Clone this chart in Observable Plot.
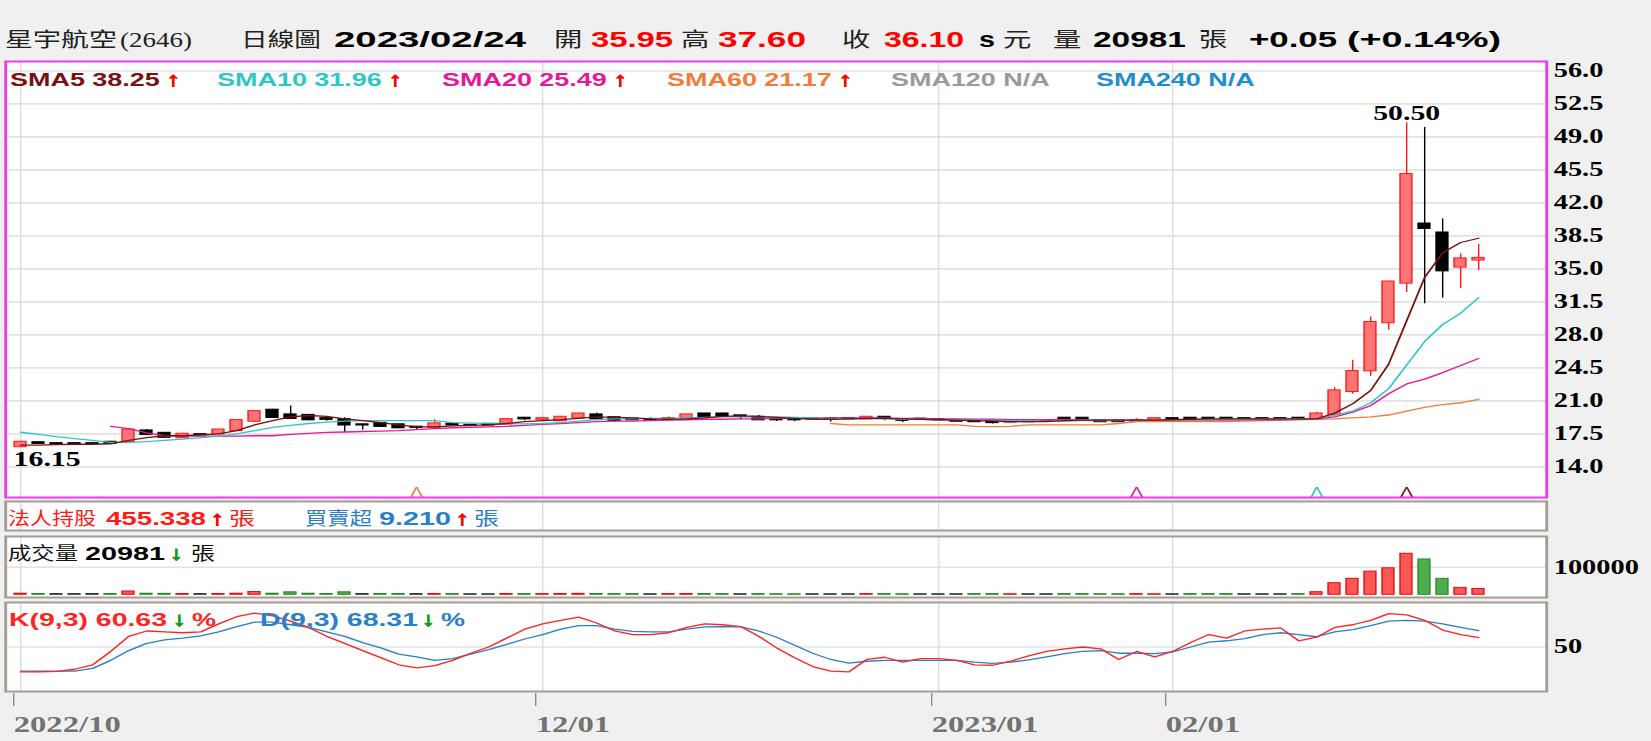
<!DOCTYPE html>
<html><head><meta charset="utf-8">
<script src="https://cdn.jsdelivr.net/npm/d3@7"></script>
<script src="https://cdn.jsdelivr.net/npm/@observablehq/plot@0.6"></script>
<style>
html,body{margin:0;padding:0;background:#f0f0f0;overflow:hidden;width:1651px;height:741px;}
#stage{position:absolute;left:0;top:0;height:741px;transform-origin:0 0;}
#stage svg{position:absolute;left:0;overflow:visible;background:transparent;}
</style></head><body><div id="stage"></div>
<script>
// ---------------- data ----------------
const dates = [
"2022-10-21","2022-10-24","2022-10-25","2022-10-26","2022-10-27","2022-10-28","2022-10-31",
"2022-11-01","2022-11-02","2022-11-03","2022-11-04","2022-11-07","2022-11-08","2022-11-09","2022-11-10","2022-11-11",
"2022-11-14","2022-11-15","2022-11-16","2022-11-17","2022-11-18","2022-11-21","2022-11-22","2022-11-23","2022-11-24",
"2022-11-25","2022-11-28","2022-11-29","2022-11-30",
"2022-12-01","2022-12-02","2022-12-05","2022-12-06","2022-12-07","2022-12-08","2022-12-09","2022-12-12","2022-12-13",
"2022-12-14","2022-12-15","2022-12-16","2022-12-19","2022-12-20","2022-12-21","2022-12-22","2022-12-23","2022-12-26",
"2022-12-27","2022-12-28","2022-12-29","2022-12-30",
"2023-01-03","2023-01-04","2023-01-05","2023-01-06","2023-01-09","2023-01-10","2023-01-11","2023-01-12","2023-01-13",
"2023-01-16","2023-01-17","2023-01-30","2023-01-31",
"2023-02-01","2023-02-02","2023-02-03","2023-02-06","2023-02-07","2023-02-08","2023-02-09","2023-02-10","2023-02-13",
"2023-02-14","2023-02-15","2023-02-16","2023-02-17","2023-02-20","2023-02-21","2023-02-22","2023-02-23","2023-02-24"];
const open = [
16.15,16.55,16.45,16.45,16.45,16.60,16.70,17.80,17.55,17.10,
17.40,17.50,17.85,18.85,20.00,19.50,19.45,19.10,19.00,18.45,
18.60,18.45,18.20,18.20,18.50,18.40,18.45,18.55,19.15,19.05,
18.90,19.20,19.50,19.20,19.05,19.00,19.05,19.20,19.60,19.60,
19.40,19.25,19.05,19.10,19.10,19.10,19.10,19.10,19.25,19.00,
19.05,19.00,18.85,18.90,18.85,18.75,18.80,18.90,19.15,19.15,
18.85,18.85,18.85,19.05,19.10,19.15,19.15,19.15,19.10,19.10,
19.10,19.15,19.05,19.60,22.00,24.20,29.30,33.50,39.75,38.80,
35.20,35.95];
const high = [
16.65,16.60,16.50,16.50,16.50,16.70,17.95,17.95,17.60,17.50,
17.45,17.95,18.95,19.90,20.10,20.45,19.50,19.25,19.20,18.50,
18.65,18.50,18.25,19.00,18.55,18.45,18.50,19.05,19.25,19.25,
19.30,19.65,19.70,19.25,19.10,19.20,19.30,19.55,19.65,19.65,
19.45,19.45,19.10,19.10,19.10,19.10,19.15,19.25,19.25,19.00,
19.05,19.05,18.90,18.90,18.90,18.85,18.85,18.95,19.15,19.15,
18.85,18.85,19.10,19.15,19.15,19.15,19.15,19.15,19.10,19.10,
19.10,19.15,19.80,22.40,25.30,29.90,33.65,50.50,50.00,40.30,
36.60,37.60];
const low = [
16.15,16.45,16.40,16.40,16.40,16.45,16.60,17.30,17.10,17.05,
17.35,17.45,17.80,18.70,19.15,19.10,18.90,18.85,17.65,17.90,
18.25,18.10,17.95,18.15,18.40,18.35,18.40,18.50,18.90,18.95,
18.85,19.15,19.05,18.70,18.95,18.85,18.90,19.15,19.25,19.30,
19.00,18.95,18.80,18.80,19.05,18.75,19.05,19.05,18.90,18.70,
19.00,18.95,18.75,18.75,18.55,18.70,18.70,18.70,19.05,19.05,
18.75,18.75,18.75,19.00,19.00,19.05,19.05,19.05,19.05,19.05,
19.05,19.05,19.05,19.40,21.70,23.60,28.50,32.50,31.30,31.90,
32.90,34.80];
const close = [
16.60,16.50,16.45,16.45,16.45,16.50,17.90,17.45,17.15,17.45,
17.40,17.90,18.90,19.85,19.25,19.15,19.00,19.05,18.45,18.45,
18.30,18.15,18.20,18.55,18.45,18.40,18.45,19.00,19.10,19.10,
19.25,19.60,19.10,18.95,19.00,19.00,19.10,19.50,19.30,19.35,
19.40,19.00,19.00,19.00,19.10,19.10,19.10,19.25,19.20,18.95,
19.05,19.00,18.85,18.80,18.70,18.80,18.80,18.90,19.10,19.10,
18.80,18.80,18.90,19.10,19.10,19.10,19.10,19.10,19.10,19.10,
19.10,19.10,19.60,22.05,24.10,29.30,33.60,45.00,39.30,34.80,
36.05,36.10];
const volume = [
4000,3000,2500,2500,3000,3000,12000,4000,3500,3000,
2500,3000,4000,10000,4000,9000,4000,3000,9000,3000,
3000,3000,2500,3000,2500,2000,2000,3000,2500,2500,
3000,3500,3000,2500,2500,2000,2500,3000,3000,2500,
2000,2500,2000,2000,2000,2000,2000,2500,2500,2000,
2000,2000,2000,2500,2500,2000,2000,2000,2500,2500,
2000,2000,2500,2000,2000,2500,2500,2500,2000,2000,
2000,2500,9400,42000,58000,84000,96000,148600,128000,58000,
25000,20981];
const sma5 = [
16.30,16.30,16.35,16.40,16.40,16.45,16.80,17.10,17.30,17.30,
17.40,17.50,17.85,18.45,18.90,19.30,19.45,19.35,19.10,18.90,
18.70,18.45,18.25,18.25,18.35,18.40,18.45,18.60,18.80,18.90,
19.00,19.15,19.30,19.25,19.20,19.10,19.05,19.10,19.20,19.35,
19.40,19.35,19.25,19.15,19.05,19.05,19.10,19.15,19.15,19.10,
19.05,19.00,18.95,18.90,18.85,18.80,18.80,18.80,18.90,18.95,
18.95,18.95,18.95,18.95,19.00,19.05,19.10,19.10,19.10,19.10,
19.10,19.10,19.10,19.70,20.70,22.10,24.90,29.50,34.10,36.70,
37.80,38.25];
const sma10 = [
17.67,17.45,17.20,17.00,16.80,16.60,16.60,16.67,16.80,16.95,
17.10,17.25,17.50,17.85,18.20,18.40,18.60,18.75,18.85,18.90,
18.90,18.90,18.90,18.90,18.70,18.65,18.65,18.60,18.55,18.60,
18.70,18.85,19.00,19.10,19.10,19.15,19.15,19.20,19.25,19.30,
19.30,19.30,19.30,19.25,19.20,19.15,19.10,19.10,19.10,19.05,
19.05,19.00,19.00,18.95,18.95,18.90,18.90,18.85,18.85,18.90,
18.90,18.90,18.90,18.95,18.95,19.00,19.00,19.05,19.05,19.10,
19.10,19.10,19.10,19.50,19.90,20.80,22.30,24.80,27.30,29.10,
30.30,31.96];
const sma20 = [
null,null,null,null,null,18.30,18.05,17.60,17.30,17.25,
17.25,17.25,17.25,17.30,17.30,17.45,17.55,17.65,17.70,17.75,
17.80,17.85,17.95,18.05,18.15,18.20,18.25,18.30,18.40,18.50,
18.60,18.70,18.80,18.85,18.85,18.90,18.95,19.00,19.05,19.05,
19.10,19.10,19.15,19.15,19.20,19.20,19.20,19.20,19.20,19.15,
19.15,19.10,19.10,19.05,19.05,19.00,19.00,19.00,19.00,18.95,
18.95,18.95,18.95,18.95,18.95,18.95,18.95,18.95,19.00,19.00,
19.00,19.05,19.07,19.30,19.80,20.50,21.75,22.80,23.30,24.00,
24.75,25.49];
const sma60 = [
null,null,null,null,null,null,null,null,null,null,
null,null,null,null,null,null,null,null,null,null,
null,null,null,null,null,null,null,null,null,null,
null,null,null,null,null,null,null,null,null,null,
null,null,null,null,null,18.60,18.45,18.45,18.45,18.45,
18.45,18.45,18.45,18.30,18.27,18.30,18.45,18.45,18.45,18.45,
18.45,18.60,18.80,18.80,18.80,18.80,18.80,18.80,18.85,18.90,
18.95,19.00,19.05,19.10,19.20,19.30,19.50,19.90,20.30,20.60,
20.80,21.17];
const kLine = [
22,22,22.5,25,30,45,62,68,67,66,
67,76,84,88,85,79,72,62,54,46,
38,30,26.5,29,35,43,50,60,70,76,
80,83.5,77,68,64,64,66,72,76,75,
73,62,49,38,28,23,22,36,38.5,33,
37,37,35,30,29.5,34,40,45,48,50,
48,36,45,39,45,55,64,60,68,70,
71.5,57,61,72,75,80,87.5,86,80,69,
64,60.63];
const dLine = [
23,23,23,23,26,35,46,54,58,60,
62.5,67,73,78,78,75,72,67,62,55,
49,42,39,35,37,42,47,53,59,64,
70,74,74,70,67.5,67,67,70,72.5,73,
72.5,68,61,52,43,36,32,34,35,35,
35,35,35,33,31.5,33,35.5,39,42.5,45,
46,43,43,42.5,44.5,50,55.5,57,59.5,64,
66,64,61.5,67,69.5,74,79,80,79,76,
72,68.31];
const yTicks = [14.0,17.5,21.0,24.5,28.0,31.5,35.0,38.5,42.0,45.5,49.0,52.5,56.0];
const volTicks = [100000];
const kdTicks = [50];
const xTickDates = ["2022-10-21","2022-12-01","2023-01-03","2023-02-01"];
const xTickLabels = ["2022/10","12/01","2023/01","02/01"];
const crossDates = ["2022-11-22","2023-01-30","2023-02-13","2023-02-20"];
const crossSeries = ["SMA60","SMA20","SMA10","SMA5"];
const instHold = "455.338", instNet = "9.210";
const stockName = "星宇航空", stockCode = "(2646)";

// ---------------- layout helpers ----------------
const S = 1651 / 1163;          // horizontal stretch of the original screenshot
const W0 = 1163;
const X = v => v / S;
const stage = document.getElementById("stage");
stage.style.width = W0 + "px";
stage.style.transform = `scaleX(${S})`;

const C = {SMA5:"#7a1010", SMA10:"#2ec6c6", SMA20:"#e3189b", SMA60:"#f07d3a", SMA120:"#9a9a9a", SMA240:"#1f8dd0"};
const CJK = '"Noto Sans CJK TC", sans-serif';
const SANS = '"Liberation Sans", Arial, sans-serif';
const SERIF = '"Liberation Serif", serif';

const rows = dates.map((date, i) => ({i, date, o: open[i], h: high[i], l: low[i], c: close[i], v: volume[i],
  s5: sma5[i], s10: sma10[i], s20: sma20[i], s60: sma60[i], k: kLine[i], d: dLine[i]}));
const xTickIdx = xTickDates.map(d => dates.indexOf(d));
const crosses = crossDates.map((d, j) => ({i: dates.indexOf(d), s: crossSeries[j]}));
const maxRow = d3.greatest(rows, d => d.h);
const minRow = d3.least(rows, d => d.l);

const candleStroke = d => d.c > d.o ? "#ff1a1a" : "#000";
const candleFill = d => d.c > d.o ? "#ff7474" : "#000";
const volFill = d => d.c > d.o ? "#ff5656" : d.c < d.o ? "#4dae4d" : "#444";
const volStroke = d => d.c > d.o ? "#e01010" : d.c < d.o ? "#2a8a2a" : "#333";

const xScale = {domain: [-0.833, 84.78], axis: null};
const PANEL_L = 5, PANEL_R = 1546;
const common = {width: W0, marginLeft: X(PANEL_L), marginRight: W0 - X(PANEL_R)};
function panel(top, bottom, opts) {
  const svg = Plot.plot({...common, height: bottom - top + 2, marginTop: 1, marginBottom: 1,
    x: xScale, ...opts});
  svg.style.top = (top - 1) + "px";
  stage.append(svg);
  return svg;
}
const vgrid = () => Plot.gridX(xTickIdx, {stroke: "#dcdcdc", strokeOpacity: 1, strokeWidth: 1});
const axisStyle = {label: null, fontFamily: SERIF, fontSize: 20, fontWeight: "bold", fill: "#000"};

// ---------------- main candlestick panel ----------------
panel(61, 497, {
  y: {domain: [10.75, 57.0], axis: null},
  style: {fontFamily: SERIF, fontSize: "20px", fontWeight: "bold", background: "transparent"},
  marks: [
    Plot.frame({fill: "#fff", stroke: null}),
    Plot.gridY(yTicks, {stroke: "#e2e2e2", strokeOpacity: 1, strokeWidth: 1.6}),
    vgrid(),
    Plot.ruleX(rows, {x: "i", y1: "l", y2: "h", stroke: candleStroke, strokeWidth: 1}),
    Plot.rect(rows, {x1: d => d.i - 0.33, x2: d => d.i + 0.33, y1: "o", y2: "c",
      fill: candleFill, stroke: candleStroke, strokeWidth: 1, insetTop: -0.6, insetBottom: -0.6}),
    Plot.line(rows.filter(d => d.s60 != null), {x: "i", y: "s60", stroke: C.SMA60, strokeWidth: 1.3}),
    Plot.line(rows.filter(d => d.s20 != null), {x: "i", y: "s20", stroke: C.SMA20, strokeWidth: 1.3}),
    Plot.line(rows, {x: "i", y: "s10", stroke: C.SMA10, strokeWidth: 1.3}),
    Plot.line(rows, {x: "i", y: "s5", stroke: C.SMA5, strokeWidth: 1.3}),
    Plot.text(crosses, {x: "i", text: () => "Λ", frameAnchor: "bottom", lineAnchor: "bottom", dy: -1,
      fill: d => C[d.s], fontSize: 14, fontFamily: SANS, fontWeight: "normal"}),
    Plot.text([maxRow], {x: "i", y: "h", text: d => d.h.toFixed(2), lineAnchor: "bottom", dy: -3,
      fontSize: 21, fontWeight: "bold", fontFamily: SERIF, fill: "#000"}),
    Plot.text([minRow], {x: "i", y: "l", text: d => d.l.toFixed(2), lineAnchor: "top", textAnchor: "start",
      dx: -5, dy: 4, fontSize: 21, fontWeight: "bold", fontFamily: SERIF, fill: "#000"}),
    Plot.axisY(yTicks, {anchor: "right", tickSize: 0, tickPadding: X(7), tickFormat: d => d.toFixed(1), ...axisStyle}),
    Plot.frame({stroke: "#ec3aec", strokeWidth: 2})
  ]
});

// ---------------- institutional strip ----------------
panel(501, 530, {
  y: {domain: [0, 1], axis: null},
  marks: [Plot.frame({fill: "#fff", stroke: null}), vgrid(), Plot.frame({stroke: "#a59c93", strokeWidth: 2})]
});

// ---------------- volume panel ----------------
panel(536, 597, {
  y: {domain: [-9800, 211200], axis: null},
  style: {fontFamily: SERIF, fontSize: "20px", fontWeight: "bold", background: "transparent"},
  marks: [
    Plot.frame({fill: "#fff", stroke: null}),
    Plot.gridY(volTicks, {stroke: "#e2e2e2", strokeOpacity: 1, strokeWidth: 1.6}),
    vgrid(),
    Plot.rect(rows, {x1: d => d.i - 0.33, x2: d => d.i + 0.33, y1: 0, y2: "v",
      fill: volFill, stroke: volStroke, strokeWidth: 1}),
    Plot.axisY(volTicks, {anchor: "right", tickSize: 0, tickPadding: X(7), tickFormat: d => String(d), ...axisStyle}),
    Plot.frame({stroke: "#a59c93", strokeWidth: 2})
  ]
});

// ---------------- KD panel ----------------
panel(602, 691, {
  y: {domain: [0, 100], axis: null},
  style: {fontFamily: SERIF, fontSize: "20px", fontWeight: "bold", background: "transparent"},
  marks: [
    Plot.frame({fill: "#fff", stroke: null}),
    Plot.gridY(kdTicks, {stroke: "#e2e2e2", strokeOpacity: 1, strokeWidth: 1.6}),
    vgrid(),
    Plot.line(rows, {x: "i", y: "d", stroke: "#2a80c8", strokeWidth: 1.3}),
    Plot.line(rows, {x: "i", y: "k", stroke: "#ff2424", strokeWidth: 1.3}),
    Plot.axisY(kdTicks, {anchor: "right", tickSize: 0, tickPadding: X(7), tickFormat: d => String(d), ...axisStyle}),
    Plot.frame({stroke: "#a59c93", strokeWidth: 2})
  ]
});

// ---------------- date axis ----------------
{
  const svg = Plot.plot({...common, height: 50, marginTop: 0, marginBottom: 48, x: xScale,
    style: {fontFamily: SERIF, fontSize: "23px", fontWeight: "bold", background: "transparent"},
    marks: [Plot.axisX(xTickIdx, {anchor: "bottom", tickSize: 13, tickPadding: 9, label: null,
      tickFormat: i => xTickLabels[xTickIdx.indexOf(i)], textAnchor: "start", dx: -X(7),
      fontFamily: SERIF, fontSize: 23, fontWeight: "bold", fill: "#727272", stroke: "#8c8c8c", strokeWidth: 1})]});
  svg.style.top = "691px";
  stage.append(svg);
}

// ---------------- text overlay ----------------
const ov = d3.select(stage).append("svg").attr("width", W0).attr("height", 741).style("top", "0px");
function put(xFull, yBase, txt, fill, family, size, weight, wFull) {
  const t = ov.append("text").attr("x", X(xFull)).attr("y", yBase).attr("fill", fill)
    .style("font-family", family).style("font-size", size + "px").style("font-weight", weight || "normal").text(txt);
  if (wFull) t.attr("textLength", X(wFull)).attr("lengthAdjust", "spacingAndGlyphs");
  return t;
}
// thick arrow glyph (stroked to look bold like the original)
function arrow(xFull, yBase, txt, fill) {
  return put(xFull, yBase, txt, fill, SANS, 19, "bold", 13).attr("stroke", fill).attr("stroke-width", 1.1);
}
const last = rows[rows.length - 1], prev = rows[rows.length - 2];
const chg = last.c - prev.c, pct = chg / prev.c * 100;
const sgn = v => (v >= 0 ? "+" : "") + v.toFixed(2);
const dstr = last.date.replace(/-/g, "/");
const TY = 47, TN = 22;
// title
put(5, TY, stockName, "#222", CJK, 20, "normal", 112);
put(120, TY, stockCode, "#222", SERIF, 21, "normal", 72);
put(241, TY, "日線圖", "#222", CJK, 20, "normal", 80);
put(334, TY, dstr, "#000", SANS, TN, "bold", 192);
put(554, TY, "開", "#222", CJK, 20);
put(591, TY, last.o.toFixed(2), "#ff0000", SANS, TN, "bold", 82);
put(681, TY, "高", "#222", CJK, 20);
put(718, TY, last.h.toFixed(2), "#ff0000", SANS, TN, "bold", 88);
put(842, TY, "收", "#222", CJK, 20);
put(884, TY, last.c.toFixed(2), "#ff0000", SANS, TN, "bold", 80);
put(979, TY, "s", "#000", SANS, TN, "bold", 16);
put(1003, TY, "元", "#222", CJK, 20);
put(1053, TY, "量", "#222", CJK, 20);
put(1093, TY, String(last.v), "#000", SANS, TN, "bold", 93);
put(1199, TY, "張", "#222", CJK, 20);
put(1249, TY, sgn(chg), "#000", SANS, TN, "bold", 88);
put(1347, TY, `(${sgn(pct)}%)`, "#000", SANS, TN, "bold", 154);
// SMA legend
const legend = [["SMA5", sma5, 10, 152], ["SMA10", sma10, 217, 167], ["SMA20", sma20, 442, 167], ["SMA60", sma60, 667, 167], ["SMA120", null, 891], ["SMA240", null, 1096]];
for (const [name, arr, x, w] of legend) {
  put(x, 86, `${name} ${arr ? arr[arr.length - 1].toFixed(2) : "N/A"}`, C[name], SANS, 19, "bold");
  if (arr) arrow(x + w + 5, 86, "↑", "#ff0000");
}
// institutional row
put(8, 525, "法人持股", "#ff1a1a", CJK, 18, "normal", 88);
put(106, 525, instHold, "#ff1a1a", SANS, 19, "bold", 100);
arrow(211, 525, "↑", "#ff0000");
put(229, 525, "張", "#ff1a1a", CJK, 18, "normal", 26);
put(305, 525, "買賣超", "#2a80c8", CJK, 18, "normal", 67);
put(379, 525, instNet, "#2a80c8", SANS, 19, "bold", 72);
arrow(456, 525, "↑", "#ff0000");
put(474, 525, "張", "#2a80c8", CJK, 18, "normal", 25);
// volume row
put(8, 560, "成交量", "#111", CJK, 18, "normal", 70);
put(85, 560, String(last.v), "#000", SANS, 19, "bold", 80);
arrow(170, 560, "↓", "#1a9a1a");
put(191, 560, "張", "#111", CJK, 18, "normal", 24);
// KD row
put(9, 626, `K(9,3) ${last.k.toFixed(2)}`, "#ff2424", SANS, 19, "bold", 158);
arrow(173, 626, "↓", "#1a9a1a");
put(192, 626, "%", "#ff2424", SANS, 19, "bold");
put(260, 626, `D(9,3) ${last.d.toFixed(2)}`, "#2a80c8", SANS, 19, "bold", 158);
arrow(422, 626, "↓", "#1a9a1a");
put(441, 626, "%", "#2a80c8", SANS, 19, "bold");
</script></body></html>
